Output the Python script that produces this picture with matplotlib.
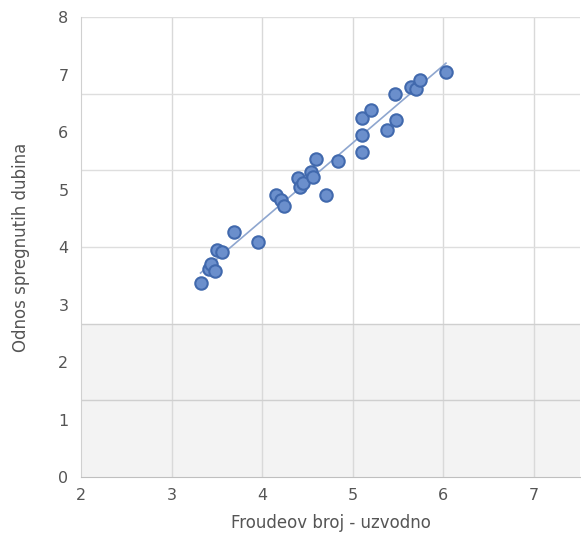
import numpy as np
import matplotlib
matplotlib.use("Agg")
import matplotlib.pyplot as plt

# Froude number upstream vs. ratio of conjugate depths
froude = [3.32, 3.41, 3.43, 3.48, 3.50, 3.56, 3.69, 3.95,
          4.15, 4.21, 4.24, 4.40, 4.42, 4.45, 4.54, 4.56, 4.60, 4.71, 4.84,
          5.10, 5.10, 5.10, 5.20, 5.38, 5.47, 5.48, 5.64, 5.70, 5.74, 6.03]
depth_ratio = [3.38, 3.61, 3.70, 3.59, 3.94, 3.91, 4.26, 4.08,
               4.90, 4.82, 4.71, 5.20, 5.04, 5.12, 5.30, 5.22, 5.53, 4.90, 5.50,
               5.65, 5.95, 6.25, 6.39, 6.03, 6.67, 6.21, 6.79, 6.75, 6.90, 7.05]

x_ticks = [2, 3, 4, 5, 6, 7]
y_ticks = [0, 1, 2, 3, 4, 5, 6, 7, 8]
y_grid = [0, 8/6, 16/6, 4, 32/6, 40/6, 8]

x_label = "Froudeov broj - uzvodno"
y_label = "Odnos spregnutih dubina"

fig = plt.figure(figsize=(5.81, 5.34), dpi=100)
ax = fig.add_axes([0.1394, 0.1067, 0.8589, 0.8614])

ax.set_xlim(2, 7.51)
ax.set_ylim(0, 8)

# grey band in the lower part of the plot area
ax.axhspan(0, 16/6, color="#f3f3f3", zorder=0, lw=0)

for gx in x_ticks[1:]:
    ax.axvline(gx, color="#d9d9d9", lw=1, zorder=1)
for gy in y_grid[1:]:
    c = "#cfcfcf" if gy < 3 else "#dedede"
    ax.axhline(gy, color=c, lw=1, zorder=1)

# linear trendline
k, n = np.polyfit(froude, depth_ratio, 1)
xs = np.array([min(froude), max(froude)])
ax.plot(xs, k * xs + n, color="#8ea6cf", lw=1.2, zorder=2)

ax.scatter(froude, depth_ratio, s=80, facecolor="#6b8fcc", edgecolor="#4169ad",
           linewidth=1.5, zorder=3)

ax.set_xticks(x_ticks)
ax.set_yticks(y_ticks)
ax.tick_params(axis="y", length=0, labelsize=11.5, labelcolor="#555555", pad=9)
ax.tick_params(axis="x", length=0, labelsize=11.5, labelcolor="#555555", pad=8)

for side in ["top", "right"]:
    ax.spines[side].set_visible(False)
ax.spines["bottom"].set_color("#bfbfbf")
ax.spines["left"].set_color("#d0d0d0")

ax.set_xlabel(x_label, fontsize=12, color="#555555", labelpad=8)
ax.set_ylabel(y_label, fontsize=12, color="#555555", labelpad=20)

fig.savefig("out.png", dpi=100)
